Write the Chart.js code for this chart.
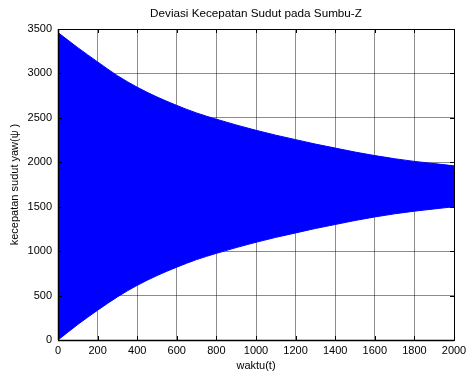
<!DOCTYPE html>
<html><head><meta charset="utf-8">
<script src="https://cdn.jsdelivr.net/npm/chart.js@4/dist/chart.umd.min.js"></script>
<style>html,body{margin:0;padding:0;background:#fff}canvas{display:block}</style>
</head><body>
<canvas id="c" width="466" height="373"></canvas>
<script>
const timeValues = [0,100,200,300,400,500,600,700,800,900,1000,1100,1200,1300,1400,1500,1600,1700,1800,1900,2000];
const upperEnvelope = [3460,3290,3130,2975,2845,2735,2640,2555,2485,2420,2360,2305,2255,2205,2160,2115,2075,2040,2010,1985,1960];
const lowerEnvelope = [0,175,335,485,615,725,820,905,975,1040,1100,1155,1205,1255,1300,1345,1385,1420,1450,1475,1500];
const xTicks = [0,200,400,600,800,1000,1200,1400,1600,1800,2000];
const yTicks = [0,500,1000,1500,2000,2500,3000,3500];
const chartTitle = 'Deviasi Kecepatan Sudut pada Sumbu-Z';

const FONT = "'Liberation Sans', Arial, sans-serif";

const boxPlugin = {
  id: 'box',
  afterDraw(chart) {
    const {ctx, chartArea: a, scales} = chart;
    ctx.save();
    ctx.strokeStyle = '#000';
    ctx.lineWidth = 1;
    ctx.strokeRect(Math.round(a.left)+0.5, Math.round(a.top)+0.5, Math.round(a.right-a.left), Math.round(a.bottom-a.top));
    ctx.beginPath();
    ctx.lineWidth = 1.5;
    ctx.moveTo(a.left, a.bottom+0.5); ctx.lineTo(a.right, a.bottom+0.5);
    ctx.moveTo(a.left+0.5, a.top); ctx.lineTo(a.left+0.5, a.bottom);
    ctx.stroke();
    ctx.lineWidth = 1;
    ctx.beginPath();
    xTicks.forEach(v => {
      const x = Math.round(scales.x.getPixelForValue(v)) + 0.5;
      ctx.moveTo(x, a.bottom); ctx.lineTo(x, a.bottom - 4);
      ctx.moveTo(x, a.top); ctx.lineTo(x, a.top + 4);
    });
    yTicks.forEach(v => {
      const y = Math.round(scales.y.getPixelForValue(v)) + 0.5;
      ctx.moveTo(a.left, y); ctx.lineTo(a.left + 4, y);
      ctx.moveTo(a.right, y); ctx.lineTo(a.right - 4, y);
    });
    ctx.stroke();
    // title centred over the plot area
    ctx.fillStyle = '#000';
    ctx.font = '11.7px ' + FONT;
    ctx.textAlign = 'center';
    ctx.textBaseline = 'middle';
    ctx.fillText(chartTitle, (a.left + a.right) / 2, 14);
    ctx.restore();
  }
};

new Chart(document.getElementById('c'), {
  type: 'line',
  data: {
    labels: timeValues,
    datasets: [
      { data: timeValues.map((t,i)=>({x:t,y:lowerEnvelope[i]})), borderColor:'#0000ff', borderWidth:1, pointRadius:0, fill:false, cubicInterpolationMode:'monotone' },
      { data: timeValues.map((t,i)=>({x:t,y:upperEnvelope[i]})), borderColor:'#0000ff', borderWidth:1, pointRadius:0, backgroundColor:'#0000ff', fill:'-1', cubicInterpolationMode:'monotone' }
    ]
  },
  options: {
    responsive:false, animation:false,
    layout:{ padding:{ left:0, right:12, top:29, bottom:0 } },
    plugins:{
      legend:{display:false}, tooltip:{enabled:false}, title:{display:false}
    },
    scales:{
      x:{ type:'linear', min:0, max:2000,
          afterBuildTicks(s){ s.ticks = xTicks.map(v=>({value:v})); },
          afterFit(s){ s.height = 33; s.paddingRight = 0; s.paddingLeft = 0; },
          grid:{ color:'rgba(0,0,0,0.45)', drawTicks:false },
          border:{ display:false },
          ticks:{ color:'#000', font:{family:FONT, size:11}, padding:4, maxRotation:0, callback:v=>String(v) },
          title:{ display:true, text:'waktu(t)', color:'#000', font:{family:FONT, size:11}, padding:{top:0, bottom:0} } },
      y:{ type:'linear', min:0, max:3500,
          afterBuildTicks(s){ s.ticks = yTicks.map(v=>({value:v})); },
          afterFit(s){ s.width = 58; s.paddingTop = 0; s.paddingBottom = 0; },
          grid:{ color:'rgba(0,0,0,0.45)', drawTicks:false },
          border:{ display:false },
          ticks:{ color:'#000', font:{family:FONT, size:11}, padding:6, callback:v=>String(v) },
          title:{ display:true, text:'kecepatan sudut yaw(ψ )', color:'#000', font:{family:FONT, size:11}, padding:{top:8, bottom:0} } }
    }
  },
  plugins:[boxPlugin]
});
</script>
</body></html>
